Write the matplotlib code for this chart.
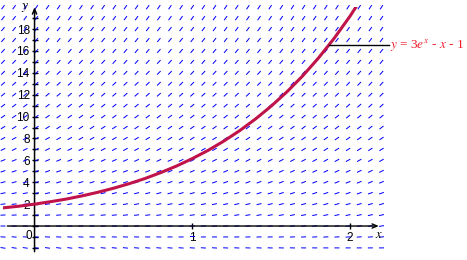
import numpy as np
import matplotlib
matplotlib.use('Agg')
import matplotlib.pyplot as plt

# solution curve y = 3e^x - x - 1
curve_x = [-0.2, -0.1, 0.0, 0.1, 0.2, 0.3, 0.4, 0.5, 0.6, 0.7, 0.8, 0.9, 1.0,
           1.1, 1.2, 1.3, 1.4, 1.5, 1.6, 1.7, 1.8, 1.9, 2.0, 2.1]
curve_y = [1.66, 1.81, 2.0, 2.22, 2.46, 2.75, 3.08, 3.45, 3.87, 4.34, 4.88, 5.48, 6.16,
           6.91, 7.76, 8.71, 9.77, 10.95, 12.26, 13.72, 15.35, 17.16, 19.17, 21.4]

# direction field grid (dy/dx = x + y)
field_x = np.linspace(-0.2, 2.2, 35)
field_y = np.arange(-2, 21)

y_major = [2, 4, 6, 8, 10, 12, 14, 16, 18]
y_minor = list(range(-2, 20))
x_major = [1, 2]

BLUE = '#0000ff'
CURVE = '#c0134a'
LABEL = '#ee1c2a'

plt.rcParams['font.family'] = ['Liberation Sans', 'DejaVu Sans']
plt.rcParams['mathtext.fontset'] = 'stix'

fig = plt.figure(figsize=(4.67, 2.60), dpi=100)
ax = fig.add_axes([3 / 467, 12.1 / 260, 378.5 / 467, 240.7 / 260])
ax.set_xlim(-0.2, 2.2)
ax.set_ylim(-2, 20)

for s in ['top', 'right', 'left', 'bottom']:
    ax.spines[s].set_visible(False)
ax.spines['left'].set_position(('data', 0))
ax.spines['bottom'].set_position(('data', 0))

# axes with arrow heads
ax.annotate('', xy=(0, 20.25), xytext=(0, -2.6), annotation_clip=False,
            arrowprops=dict(arrowstyle='->,head_length=0.35,head_width=0.15', lw=1.1, color='black'))
ax.annotate('', xy=(2.2, 0), xytext=(-0.19, 0), annotation_clip=False,
            arrowprops=dict(arrowstyle='->,head_length=0.35,head_width=0.15', lw=1.0, color='black'))

ax.set_yticks(y_major)
ax.set_yticks(y_minor, minor=True)
ax.set_xticks(x_major)
ax.set_xticklabels(['1', '2'])
ax.tick_params(axis='both', which='both', direction='inout', length=5, width=1, labelsize=8.5, pad=1)
ax.tick_params(axis='y', which='minor', length=5)
ax.tick_params(axis='x', which='major', pad=2)

ax.text(-0.035, -0.95, '0', fontsize=8.5, ha='center', va='center')
ax.text(-0.06, 20.0, '$y$', fontsize=10, ha='center', va='center')
ax.text(2.185, -0.85, '$x$', fontsize=9, ha='center', va='center')

# slope field
X, Y = np.meshgrid(field_x, field_y)
S = X + Y
norm = np.sqrt(1 + S ** 2)
ax.quiver(X, Y, 1 / norm, S / norm, angles='xy', scale_units='dots', scale=1 / 5.0,
          pivot='mid', units='dots', width=1.0, headwidth=0, headlength=0,
          headaxislength=0, color=BLUE, zorder=2, clip_on=False)

ax.plot(curve_x, curve_y, color=CURVE, lw=2.2, zorder=3)

# label for the curve
ax.plot([1.865, 2.245], [16.5, 16.5], color='black', lw=1, clip_on=False, zorder=4)
ax.text(2.255, 16.5, r'$y$ = 3$e^{x}$ - $x$ - 1', color=LABEL, fontsize=9.5,
        ha='left', va='center', family=['Liberation Serif', 'DejaVu Serif'])

fig.savefig('out.png', dpi=100)
